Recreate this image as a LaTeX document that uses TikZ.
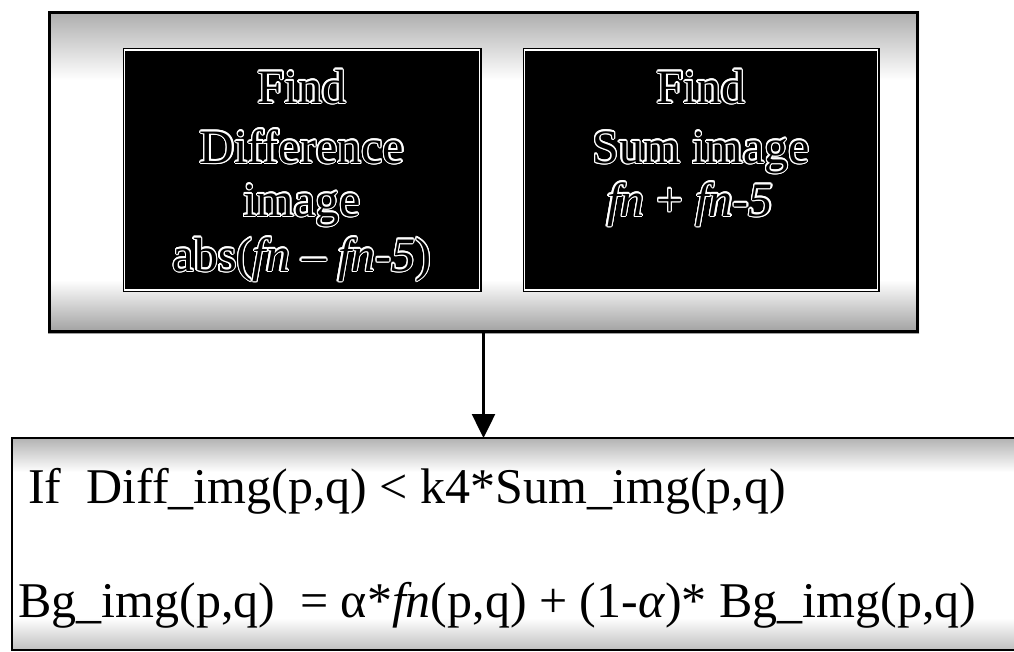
\documentclass[tikz,border=0pt]{standalone}
\usepackage{fontspec}
\setmainfont{Liberation Serif}
\usepackage{contour}
\usetikzlibrary{arrows.meta}
\contourlength{1.3pt}
\contournumber{16}
\newcommand{\outl}[1]{\contour{white}{#1}}

\tikzset{
  darkbox/.style={draw=black, line width=1.2pt, double=white, double distance=1.6pt,
    fill=black, minimum height=240pt, inner sep=0pt},
  boxtext/.style={font=\fontsize{48}{56}\selectfont, anchor=base, inner sep=0pt},
  bigtext/.style={font=\fontsize{50}{58}\selectfont, anchor=base west, inner sep=0pt},
}

\begin{document}
\begin{tikzpicture}[x=1pt, y=-1pt]
\useasboundingbox (0,0) rectangle (1014,651);

%% grey bands
\shade[top color=gray!65, bottom color=white] (48,11) rectangle (919,80);
\shade[top color=white, bottom color=gray!75] (48,280) rectangle (919,333);
\shade[top color=gray!60, bottom color=white] (12,438) rectangle (1014,472);
\shade[top color=white, bottom color=gray!50] (12,618) rectangle (1014,650);

%% upper block
\node[draw, line width=3.5pt, minimum width=868pt, minimum height=319pt, inner sep=0pt] (outer) at (483.5,172) {};
\node[darkbox, minimum width=355pt] (diff) at (302,170) {};
\node[darkbox, minimum width=353pt] (sum) at (701,170) {};

\node[boxtext] (d1) at (302,103) {\outl{Find}};
\node[boxtext] (d2) at (302,163) {\outl{Difference}};
\node[boxtext] (d3) at (302,216) {\outl{image}};
\node[boxtext] (d4) at (302,271) {\outl{abs(\textit{fn} – \textit{fn-5})}};

\node[boxtext] (s1) at (701,103) {\outl{Find}};
\node[boxtext] (s2) at (701,163) {\outl{Sum image}};
\node[boxtext] (s3) at (690,216) {\outl{\textit{fn} + \textit{fn-5}}};

%% lower block
\draw[line width=2pt] (1030,438) -- (12,438) -- (12,650) -- (1030,650);
\coordinate (bgtop) at (483.5,438);

\node[bigtext] (cond) at (28,503) {If\ \ Diff\_img(p,q) < k4*Sum\_img(p,q)};
\node[bigtext] (upd) at (18,617) {Bg\_img(p,q)\ \ = α*\textit{fn}(p,q) + (1-\textit{α})* Bg\_img(p,q)};

\draw[line width=2.5pt, -{Triangle[width=23pt,length=24pt]}] (outer.south) -- (bgtop);
\end{tikzpicture}
\end{document}
